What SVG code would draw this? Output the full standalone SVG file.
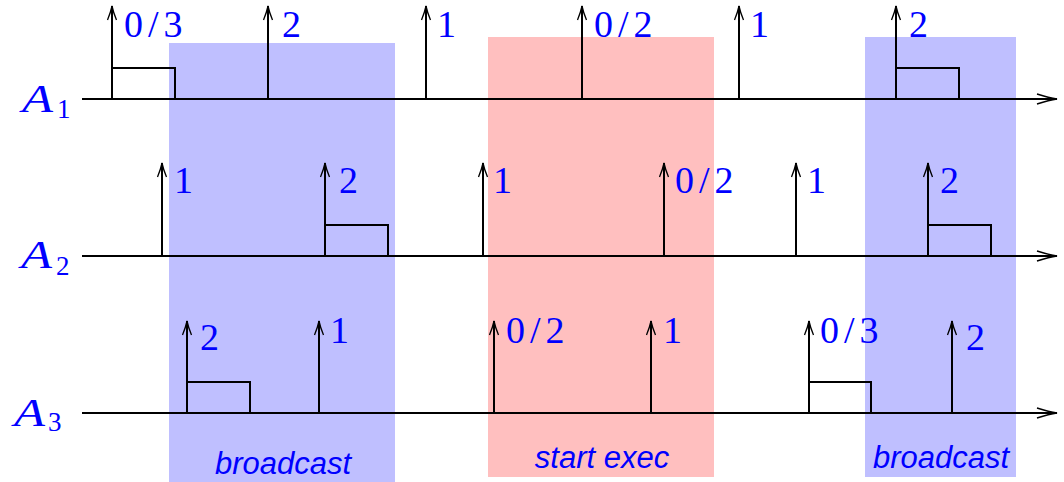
<svg xmlns="http://www.w3.org/2000/svg" width="1064" height="482" viewBox="0 0 1064 482">
<style>
.band-b{fill:#bfbfff}
.band-p{fill:#ffbfbf}
.band-t{font-family:"Liberation Sans",Arial,sans-serif;font-style:italic;font-size:31px;fill:#0000ff;text-anchor:middle}
.axis{font-family:"Liberation Serif","Times New Roman",serif;font-style:italic;font-size:39px;fill:#0000ff}
.sub{font-family:"Liberation Serif","Times New Roman",serif;font-style:normal;font-size:27px;fill:#0000ff}
.lbl{font-family:"Liberation Serif","Times New Roman",serif;font-size:38px;fill:#0000ff;letter-spacing:5px}
.tl{stroke:#000;stroke-width:2;fill:none;marker-end:url(#big)}
.ev{stroke:#000;stroke-width:2;fill:none;marker-end:url(#small)}
.box{stroke:#000;stroke-width:2;fill:none}
</style>
<defs>
<marker id="small" markerUnits="userSpaceOnUse" orient="auto" refX="0" refY="0" markerWidth="30" markerHeight="30" viewBox="-20 -10 30 20" overflow="visible">
<path d="M-14,-4.5 C-8,-2 -3,-0.6 0,0 C-3,0.6 -8,2 -14,4.5" fill="none" stroke="#000" stroke-width="1.3"/>
</marker>
<marker id="big" markerUnits="userSpaceOnUse" orient="auto" refX="0" refY="0" markerWidth="30" markerHeight="30" viewBox="-25 -10 30 20" overflow="visible">
<path d="M-20,-5 C-12,-2.5 -4,-0.6 0,0 C-4,0.6 -12,2.5 -20,5" fill="none" stroke="#000" stroke-width="1.5"/>
</marker>
</defs>

<g id="bands">
<rect id="band-broadcast-1" class="band-b" x="169" y="43" width="226" height="439"/>
<rect id="band-start-exec" class="band-p" x="488" y="37" width="226" height="440"/>
<rect id="band-broadcast-2" class="band-b" x="865" y="37" width="151" height="440"/>
<text class="band-t" x="283" y="474">broadcast</text>
<text class="band-t" x="602" y="468">start exec</text>
<text class="band-t" x="941" y="468">broadcast</text>
</g>

<g id="connectors">
<path class="tl" d="M82,99 H1057"/>
<path class="tl" d="M82,256 H1057"/>
<path class="tl" d="M82,413 H1057"/>
</g>

<g id="A1">
<text class="axis" x="22" y="112" textLength="31" lengthAdjust="spacingAndGlyphs">A</text><text class="sub" x="57" y="118">1</text>
<path class="box" d="M112,68 H175 V99"/>
<path class="box" d="M896,68 H959 V99"/>
<path class="ev" d="M112,99 V6"/>
<path class="ev" d="M268,99 V6"/>
<path class="ev" d="M426,99 V6"/>
<path class="ev" d="M582,99 V6"/>
<path class="ev" d="M739,99 V6"/>
<path class="ev" d="M896,99 V6"/>
<text class="lbl" x="124" y="37">0/3</text>
<text class="lbl" x="282" y="37">2</text>
<text class="lbl" x="437" y="37">1</text>
<text class="lbl" x="594" y="37">0/2</text>
<text class="lbl" x="750" y="37">1</text>
<text class="lbl" x="909" y="37">2</text>
</g>

<g id="A2">
<text class="axis" x="21" y="268" textLength="31" lengthAdjust="spacingAndGlyphs">A</text><text class="sub" x="56" y="275">2</text>
<path class="box" d="M325,225 H388 V256"/>
<path class="box" d="M928,225 H991 V256"/>
<path class="ev" d="M162,256 V163"/>
<path class="ev" d="M325,256 V163"/>
<path class="ev" d="M483,256 V163"/>
<path class="ev" d="M664,256 V163"/>
<path class="ev" d="M796,256 V163"/>
<path class="ev" d="M928,256 V163"/>
<text class="lbl" x="174" y="193">1</text>
<text class="lbl" x="339" y="193">2</text>
<text class="lbl" x="493" y="193">1</text>
<text class="lbl" x="675" y="193">0/2</text>
<text class="lbl" x="807" y="193">1</text>
<text class="lbl" x="940" y="193">2</text>
</g>

<g id="A3">
<text class="axis" x="14" y="426" textLength="31" lengthAdjust="spacingAndGlyphs">A</text><text class="sub" x="48" y="431">3</text>
<path class="box" d="M187,382 H250 V413"/>
<path class="box" d="M809,382 H871 V413"/>
<path class="ev" d="M187,413 V321"/>
<path class="ev" d="M319,413 V321"/>
<path class="ev" d="M494,413 V321"/>
<path class="ev" d="M651,413 V321"/>
<path class="ev" d="M809,413 V321"/>
<path class="ev" d="M952,413 V321"/>
<text class="lbl" x="200" y="350">2</text>
<text class="lbl" x="330" y="343">1</text>
<text class="lbl" x="506" y="343">0/2</text>
<text class="lbl" x="663" y="343">1</text>
<text class="lbl" x="820" y="343">0/3</text>
<text class="lbl" x="966" y="350">2</text>
</g>
</svg>
